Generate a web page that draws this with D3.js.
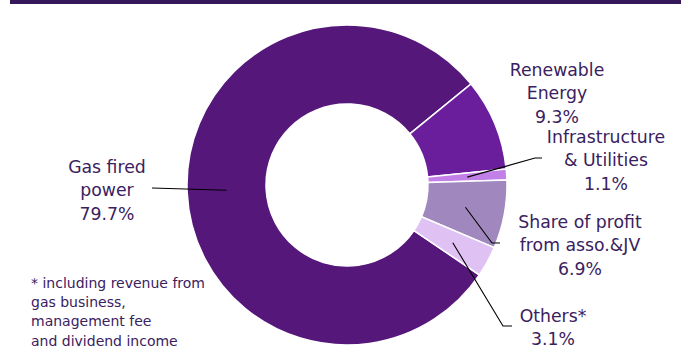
<!DOCTYPE html>
<html>
<head>
<meta charset="utf-8">
<script src="https://cdn.jsdelivr.net/npm/d3@7"></script>
<style>
  html, body { margin: 0; padding: 0; background: #fff; }
  svg text { font-family: "DejaVu Sans", Verdana, sans-serif; fill: #3a2160; }
</style>
</head>
<body>
<svg id="chart" width="686" height="360"></svg>
<script>
// revenue mix, share of total (%)
const categories = ['Gas fired power', 'Renewable Energy', 'Infrastructure & Utilities', 'Share of profit from asso.&JV', 'Others*'];
const values = [79.7, 9.3, 1.1, 6.9, 3.1];
const labelLines = [
  ['Gas fired', 'power', '79.7%'],
  ['Renewable', 'Energy', '9.3%'],
  ['Infrastructure', '& Utilities', '1.1%'],
  ['Share of profit', 'from asso.&JV', '6.9%'],
  ['Others*', '3.1%']
];
const footnote = ['* including revenue from', 'gas business,', 'management fee', 'and dividend income'];

const colors = ['#55177a', '#6a1e9b', '#c17fe7', '#a087bd', '#dfc2f3'];

const svg = d3.select('#chart');
const cx = 347, cy = 185, rOuter = 160, rInner = 81;
const deg = Math.PI / 180;
const start = 124.2 * deg;

// title rule along the top
svg.append('rect')
  .attr('x', 10).attr('y', 0)
  .attr('width', 671).attr('height', 4)
  .attr('fill', '#35185a');

const pie = d3.pie().sort(null).startAngle(start).endAngle(start + 2 * Math.PI);
const arc = d3.arc().innerRadius(rInner).outerRadius(rOuter);
const arcs = pie(values);

const g = svg.append('g').attr('transform', `translate(${cx},${cy})`);
g.selectAll('path.slice')
  .data(arcs)
  .join('path')
  .attr('class', 'slice')
  .attr('d', arc)
  .attr('fill', (d, i) => colors[i])
  .attr('stroke', '#fff')
  .attr('stroke-width', 1.5);

// label anchor spots (centre x of text block, first baseline) and leader elbows
const labels = [
  {x: 107, y: 173, elbow: null, end: [152, 188]},
  {x: 557, y: 76, elbow: null, end: null},
  {x: 606, y: 143, elbow: [535, 158], end: [542, 158]},
  {x: 580, y: 228, elbow: [492, 243], end: [500, 243]},
  {x: 553, y: 322, elbow: [503, 326], end: [512, 326]}
];
const lineGap = 23.3;

const lab = svg.append('g');
labels.forEach((l, i) => {
  const t = lab.append('text')
    .attr('text-anchor', 'middle')
    .attr('font-size', 17.3);
  labelLines[i].forEach((s, j) => {
    t.append('tspan').attr('x', l.x).attr('y', l.y + j * lineGap).text(s);
  });
  if (l.end) {
    const c = arc.centroid(arcs[i]);
    const pts = [[cx + c[0], cy + c[1]]];
    if (l.elbow) pts.push(l.elbow);
    pts.push(l.end);
    lab.append('path')
      .attr('d', d3.line()(pts))
      .attr('fill', 'none')
      .attr('stroke', '#000')
      .attr('stroke-width', 1.1);
  }
});

const fn = svg.append('text').attr('font-size', 14);
footnote.forEach((s, j) => {
  fn.append('tspan').attr('x', 31).attr('y', 288 + j * 19.2).text(s);
});
</script>
</body>
</html>
